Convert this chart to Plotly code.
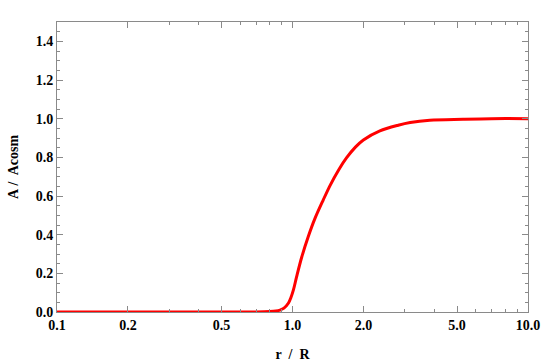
import plotly.graph_objects as go

# curve (r/R vs A/Acosm)
r_over_R = [0.1, 0.5, 0.7, 0.8, 0.85, 0.885, 0.92, 0.96, 0.985, 1.009, 1.04, 1.094, 1.166,
            1.246, 1.35, 1.443, 1.57, 1.698, 1.85, 2.0, 2.35, 2.81, 3.16, 3.83, 5.3, 7.0, 10.0]
a_ratio = [0.0, 0.0, 0.0, 0.002, 0.005, 0.01, 0.02, 0.045, 0.075, 0.114, 0.18, 0.283, 0.389,
           0.484, 0.579, 0.654, 0.735, 0.798, 0.853, 0.89, 0.937, 0.966, 0.98, 0.992, 0.997, 1.0, 1.0]

x_ticks = [0.1, 0.2, 0.5, 1, 2, 5, 10]
x_labels = ["0.1", "0.2", "0.5", "1.0", "2.0", "5.0", "10.0"]
x_minor = [0.3, 0.4, 0.6, 0.7, 0.8, 0.9, 3, 4, 6, 7, 8, 9]
y_ticks = [0.0, 0.2, 0.4, 0.6, 0.8, 1.0, 1.2, 1.4]
y_minor = [i * 0.05 for i in range(31)]

fuente = dict(family="Liberation Serif", size=14, color="black")
gris = "#8a8a8a"

fig = go.Figure()
fig.add_trace(go.Scatter(x=r_over_R, y=a_ratio, mode="lines",
                         line=dict(color="#ff0000", width=3, shape="spline", smoothing=0.9),
                         showlegend=False))

eje = dict(showgrid=False, zeroline=False, showline=True, linecolor=gris, linewidth=1,
           mirror="allticks", ticks="inside", tickcolor=gris, ticklen=6, tickwidth=1,
           tickfont=fuente, automargin=False)

fig.update_xaxes(type="log", range=[-1, 1], tickmode="array", tickvals=x_ticks,
                 ticktext=["<b>%s</b>" % t for t in x_labels],
                 minor=dict(tickmode="array", tickvals=x_minor, ticks="inside",
                            ticklen=3, tickcolor=gris),
                 title=dict(text="<b>r&nbsp; /&nbsp; R</b>", font=fuente, standoff=17), **eje)
fig.update_yaxes(range=[0, 1.5], tickmode="array", tickvals=y_ticks,
                 ticktext=["<b>%.1f</b>" % v for v in y_ticks],
                 minor=dict(tickmode="array", tickvals=y_minor, ticks="inside",
                            ticklen=3, tickcolor=gris),
                 title=dict(text="<b>A&nbsp;/&nbsp; Acosm</b>", font=fuente, standoff=13), **eje)

fig.update_layout(width=545, height=363, margin=dict(l=57, r=17, t=22, b=51),
                  plot_bgcolor="white", paper_bgcolor="white")
# quitar el margen por defecto del body para que la figura empiece en (0, 0)
fig.write_html("out.html", config={"displayModeBar": False},
               post_script="document.body.style.margin='0';")
